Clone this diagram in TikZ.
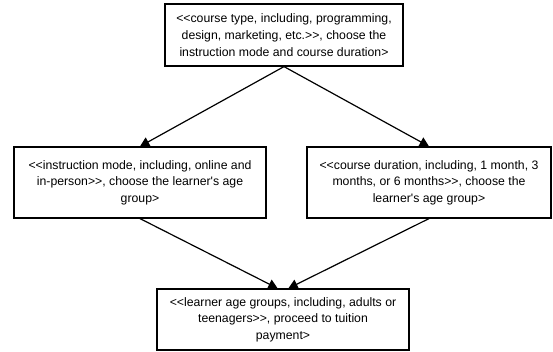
\documentclass[tikz,border=0pt]{standalone}
\usepackage{fontspec}
\setmainfont{Liberation Sans}[Ligatures=TeXOff]
\usetikzlibrary{arrows.meta}

\tikzset{
  stepbox/.style={draw, line width=0.9pt, align=center, inner sep=0.75pt,
    font=\fontsize{9.2}{12.5}\selectfont},
  flow/.style={line width=0.9pt, -{Triangle[length=7pt,width=7.5pt]}}
}

\begin{document}
\begin{tikzpicture}[x=0.75pt,y=0.75pt,yscale=-1,xscale=1]
\useasboundingbox (0,0) rectangle (553,352);

% Text Node
\node [stepbox, minimum width=238*0.75pt, minimum height=62*0.75pt] (ctype) at (284,35)
  {<<course type, including, programming,\\design, marketing, etc.>>, choose the\\instruction mode and course duration>};
% Text Node
\node [stepbox, minimum width=252*0.75pt, minimum height=71*0.75pt] (imode) at (140,182.5)
  {<<instruction mode, including, online and\\in-person>>, choose the learner's age\\group>};
% Text Node
\node [stepbox, minimum width=244*0.75pt, minimum height=71*0.75pt] (cdur) at (429,182.5)
  {<<course duration, including, 1 month, 3\\months, or 6 months>>, choose the\\learner's age group>};
% Text Node
\node [stepbox, minimum width=252*0.75pt, minimum height=61*0.75pt] (agegrp) at (283,319.5)
  {<<learner age groups, including, adults or\\teenagers>>, proceed to tuition\\payment>};

%Straight Lines
\draw [flow] (ctype.south) -- (imode.north) ;
\draw [flow] (ctype.south) -- (cdur.north) ;
\draw [flow] (imode.south) -- ([xshift=-4pt]agegrp.north) ;
\draw [flow] (cdur.south) -- ([xshift=4pt]agegrp.north) ;

\end{tikzpicture}
\end{document}
